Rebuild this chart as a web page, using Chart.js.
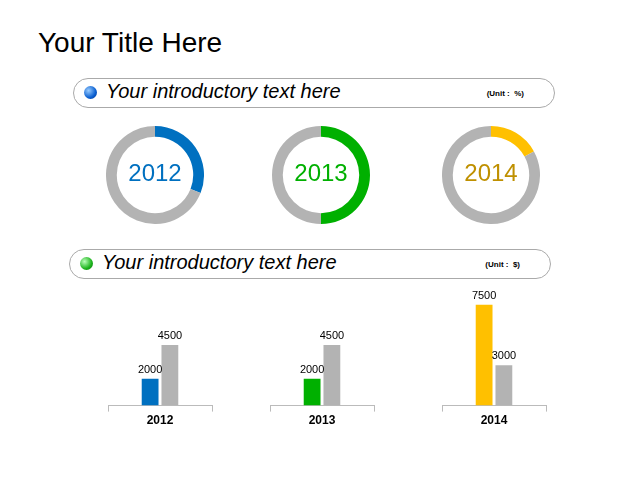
<!DOCTYPE html>
<html><head><meta charset="utf-8">
<script src="https://cdn.jsdelivr.net/npm/chart.js@4"></script>
<style>
body{margin:0;width:640px;height:480px;background:#fff;font-family:"Liberation Sans",Arial,sans-serif;position:relative;overflow:hidden}
.abs{position:absolute}
.pill{position:absolute;border:1px solid #aaa;border-radius:15px;height:28px;width:480px}
.pill .t{position:absolute;left:32px;top:1px;font-style:italic;font-size:20px;color:#000}
.pill .u{position:absolute;right:30px;top:10px;font-size:8px;font-weight:bold}
.ball{position:absolute;left:10px;top:7px;width:13px;height:13px;border-radius:50%}
.yr{position:absolute;width:100px;text-align:center;font-size:24px}
</style></head><body>
<div class="abs" style="left:38px;top:27px;font-size:28px">Your Title Here</div>
<div class="pill" style="left:73px;top:78px"><div class="ball" style="background:radial-gradient(circle at 35% 35%,#9cf,#0a5fd0 60%,#03308a)"></div><div class="t">Your introductory text here</div><div class="u">(Unit :&nbsp; %)</div></div>
<div class="pill" style="left:69px;top:249px"><div class="ball" style="background:radial-gradient(circle at 35% 35%,#bfb,#1cb31c 60%,#0a6a0a)"></div><div class="t">Your introductory text here</div><div class="u">(Unit :&nbsp; $)</div></div>

<canvas id="d0" class="abs" style="left:106px;top:126px" width="98" height="98"></canvas>
<canvas id="d1" class="abs" style="left:272px;top:126px" width="98" height="98"></canvas>
<canvas id="d2" class="abs" style="left:442px;top:126px" width="98" height="98"></canvas>
<div class="yr" style="left:105px;top:159px;color:#0070C0">2012</div>
<div class="yr" style="left:271px;top:159px;color:#00B000">2013</div>
<div class="yr" style="left:441px;top:159px;color:#BF9000">2014</div>

<canvas id="b0" class="abs" style="left:104px;top:290px" width="112" height="140"></canvas>
<canvas id="b1" class="abs" style="left:266px;top:290px" width="112" height="140"></canvas>
<canvas id="b2" class="abs" style="left:438px;top:290px" width="112" height="140"></canvas>
<script>
const years = ['2012', '2013', '2014'];
const shares = [31, 50, 17];
const colored = [2000, 2000, 7500];
const grey = [4500, 4500, 3000];
const colors = ['#0070C0', '#00B000', '#FFC000'];

const valueLabels = {
  id: 'valueLabels',
  afterDatasetsDraw(chart) {
    const ctx = chart.ctx;
    ctx.save();
    ctx.font = '11px "Liberation Sans"';
    ctx.fillStyle = '#000';
    ctx.textAlign = 'center';
    chart.data.datasets.forEach((ds, i) => {
      chart.getDatasetMeta(i).data.forEach((bar, j) => {
        ctx.fillText(ds.data[j], bar.x, bar.y - 6);
      });
    });
    ctx.restore();
  }
};

for (let i = 0; i < years.length; i++) {
  new Chart(document.getElementById('d' + i), {
    type: 'doughnut',
    data: { datasets: [{ data: [shares[i], 100 - shares[i]], backgroundColor: [colors[i], '#B3B3B3'], borderWidth: 0 }] },
    options: { responsive: false, animation: false, cutout: '78%', plugins: { legend: { display: false }, tooltip: { enabled: false } } }
  });

  new Chart(document.getElementById('b' + i), {
    type: 'bar',
    data: {
      labels: [years[i]],
      datasets: [
        { data: [colored[i]], backgroundColor: colors[i] },
        { data: [grey[i]], backgroundColor: '#B3B3B3' }
      ]
    },
    options: {
      responsive: false, animation: false,
      categoryPercentage: 0.38, barPercentage: 0.85,
      layout: { padding: { left: 4, right: 4 } },
      plugins: { legend: { display: false }, tooltip: { enabled: false } },
      scales: {
        x: {
          grid: { offset: true, drawOnChartArea: false, tickLength: 6, color: '#bbb' },
          border: { color: '#bbb' },
          ticks: { color: '#000', font: { size: 12, weight: 'bold', family: 'Liberation Sans' }, padding: 2 }
        },
        y: { display: false, min: 0, max: 8600 }
      }
    },
    plugins: [valueLabels]
  });
}
</script>
</body></html>
